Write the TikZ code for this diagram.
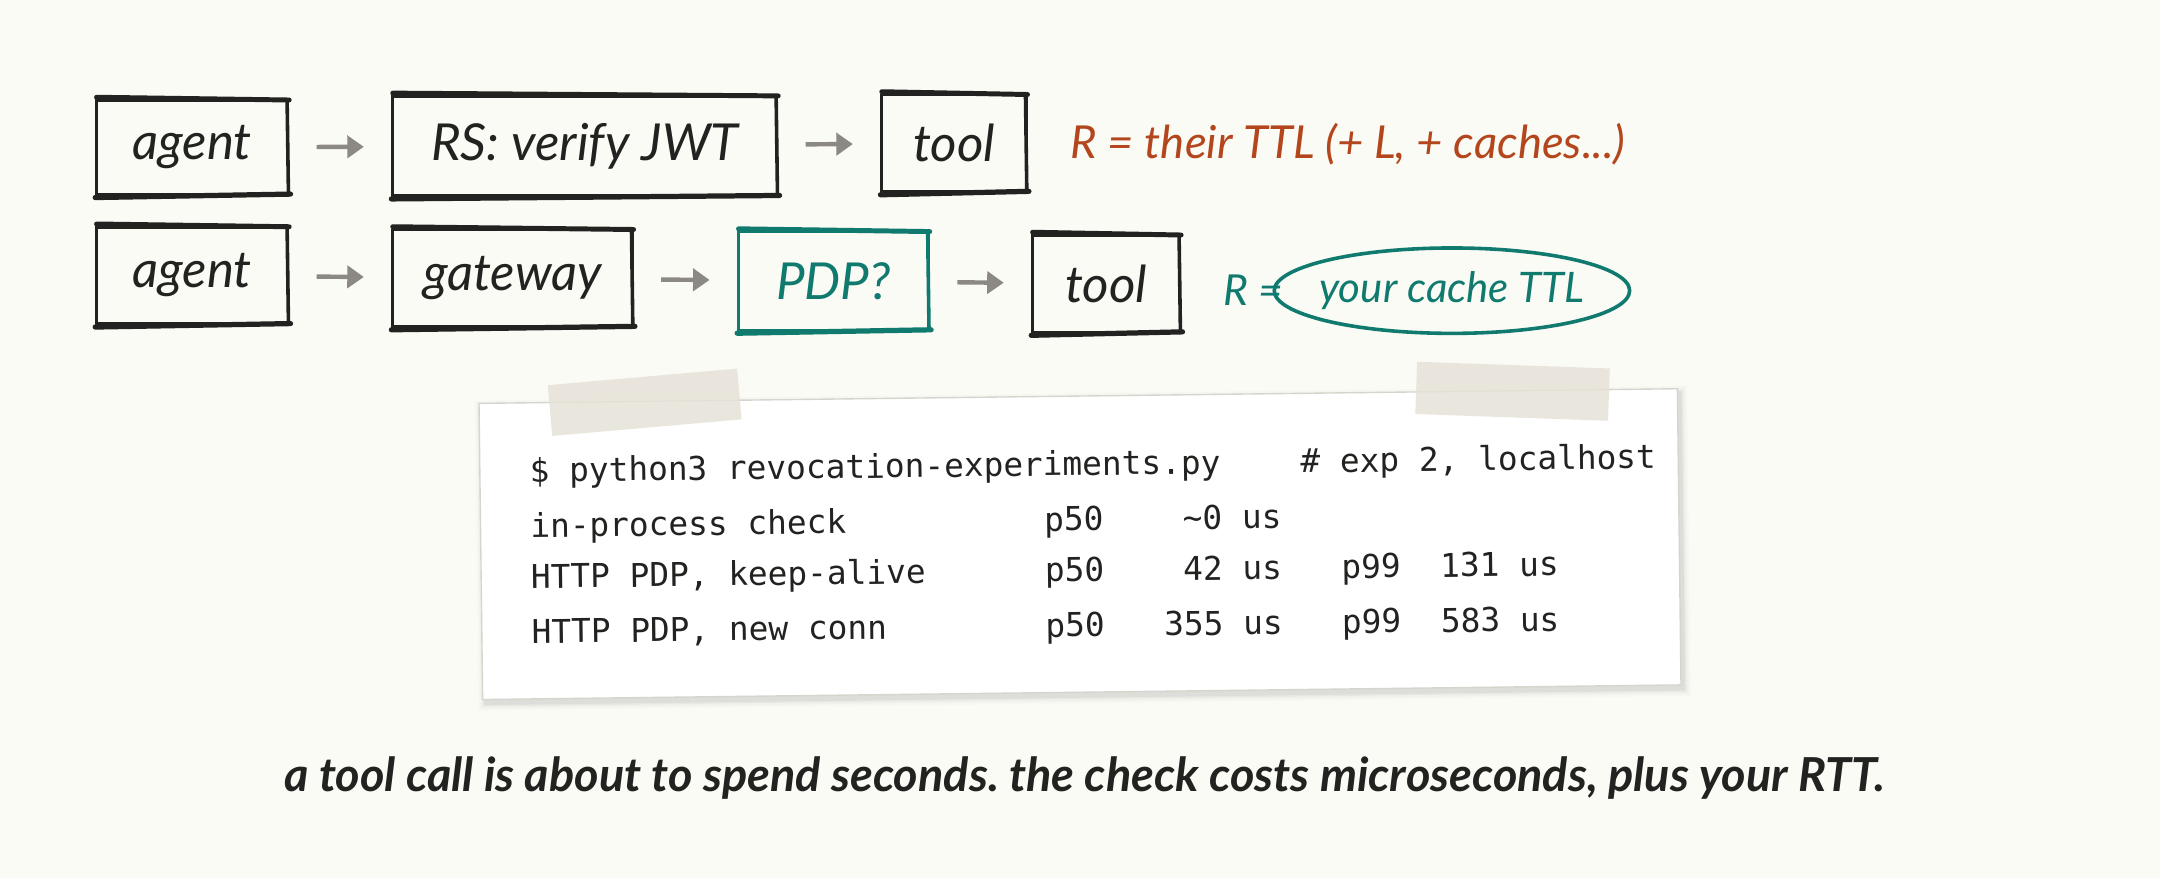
\documentclass[tikz,border=0pt]{standalone}
\usepackage{fontspec}
\usetikzlibrary{arrows.meta,shapes.geometric,calc}
\newfontfamily\hand{Lato}
\newfontfamily\code{DejaVu Sans Mono}
\definecolor{bg}{HTML}{FBFBF6}
\definecolor{ink}{HTML}{222220}
\definecolor{arr}{HTML}{8C8883}
\definecolor{rust}{HTML}{B4461E}
\definecolor{teal}{HTML}{117A6E}
\definecolor{paperedge}{HTML}{D7D4CD}
\definecolor{tape}{HTML}{E6E2D8}
\frenchspacing
\tikzset{
  sbox/.style={draw=#1, line width=1.8pt, inner sep=0pt, text=#1,
    font=\hand\itshape\fontsize{37}{42}\selectfont},
  flow/.style={draw=arr, line width=3.2pt, -{Triangle[width=16pt,length=12pt]},
    shorten <=20pt, shorten >=20pt},
  note/.style={anchor=west, inner sep=0pt, font=\hand\itshape\fontsize{33}{38}\selectfont},
  codeline/.style={anchor=mid west, inner sep=0pt, text=ink,
    font=\code\fontsize{23.8}{28}\selectfont},
  tapestrip/.style={fill=tape, fill opacity=0.85},
}
\newcommand\roughen[2]{%
  \draw[#2, line width=3.6pt, line cap=round] ([xshift=1pt,yshift=1.5pt]#1.north west) -- ([yshift=-0.5pt]#1.north east);
  \draw[#2, line width=3.8pt, line cap=round] ([yshift=-1.5pt]#1.south west) -- ([xshift=1pt,yshift=1pt]#1.south east);
  \draw[#2, line width=2.6pt] ([xshift=-1.5pt]#1.north east) -- ([xshift=-0.5pt]#1.south east);
}
\newcommand\cw{14.35}
\begin{document}
\begin{tikzpicture}[x=1pt,y=-1pt]
\useasboundingbox (0,0) rectangle (1568,637.4);
\fill[bg] (0,0) rectangle (1568,637.4);

% row 1
\node[sbox=ink, minimum width=139pt, minimum height=68pt] (agentA) at (139.5,107) {agent};
\node[sbox=ink, minimum width=279pt, minimum height=72pt] (rs) at (424.5,106) {RS: verify JWT};
\node[sbox=ink, minimum width=105pt, minimum height=70pt] (toolA) at (692.5,104) {tool};
\roughen{agentA}{ink}
\roughen{rs}{ink}
\roughen{toolA}{ink}
\draw[flow] (agentA) -- (rs);
\draw[flow] (rs) -- (toolA);
\node[note, text=rust] (rA) at (777,105) {R = their TTL (+ L, + caches...)};

% row 2
\node[sbox=ink, minimum width=139pt, minimum height=70pt] (agentB) at (139.5,200) {agent};
\node[sbox=ink, minimum width=174pt, minimum height=70pt] (gw) at (372,202) {gateway};
\node[sbox=teal, minimum width=138pt, minimum height=71pt] (pdp) at (605,204) {PDP?};
\node[sbox=ink, minimum width=107pt, minimum height=70pt] (toolB) at (803,206) {tool};
\roughen{agentB}{ink}
\roughen{gw}{ink}
\roughen{pdp}{teal}
\roughen{toolB}{ink}
\draw[flow] (agentB) -- (gw);
\draw[flow] (gw) -- (pdp);
\draw[flow] (pdp) -- (toolB);
\node[note, text=teal, font=\hand\itshape\fontsize{31}{36}\selectfont] (rB) at (888,211) {R =};
\node[ellipse, draw=teal, line width=2.6pt, minimum width=258pt, minimum height=62pt,
  inner xsep=-6pt, inner ysep=0pt, text=teal, font=\hand\itshape\fontsize{30.5}{34}\selectfont] (ttl) at (1054,211) {your cache TTL};

% paper
\begin{scope}[rotate around={0.7:(784,395)}, transform shape]
  \foreach \o/\a in {5/0.015,3.5/0.025,2/0.035,1/0.045}
    \fill[black, opacity=\a] (349-\o+2,287.5-\o+3) rectangle (1219+\o+2,502.5+\o+3);
  \node[draw=paperedge, line width=1pt, fill=white, minimum width=870pt, minimum height=215pt, inner sep=0pt] (paper) at (784,395) {};
  \node[codeline] (l1a) at (385,343) {\$ python3 revocation-experiments.py};
  \node[codeline] (l1b) at (385+39*\cw,343) {\# exp 2, localhost};
  \node[codeline] (l2a) at (385,383) {in-process check};
  \node[codeline] (l2b) at (385+26*\cw,383) {p50};
  \node[codeline] (l2c) at (385+33*\cw,383) {\string~0 us};
  \node[codeline] (l3a) at (385,420) {HTTP PDP, keep-alive};
  \node[codeline] (l3b) at (385+26*\cw,420) {p50};
  \node[codeline] (l3c) at (385+33*\cw,420) {42 us};
  \node[codeline] (l3d) at (385+41*\cw,420) {p99};
  \node[codeline] (l3e) at (385+46*\cw,420) {131 us};
  \node[codeline] (l4a) at (385,460) {HTTP PDP, new conn};
  \node[codeline] (l4b) at (385+26*\cw,460) {p50};
  \node[codeline] (l4c) at (385+32*\cw,460) {355 us};
  \node[codeline] (l4d) at (385+41*\cw,460) {p99};
  \node[codeline] (l4e) at (385+46*\cw,460) {583 us};
\end{scope}

% tapes
\begin{scope}[rotate around={5:(468,292)}]
  \fill[tapestrip] (399,273.5) rectangle (537,310.5);
\end{scope}
\begin{scope}[rotate around={-2:(1098,284)}]
  \fill[tapestrip] (1028,265) rectangle (1168,303);
\end{scope}

% caption
\node[font=\hand\bfseries\itshape\fontsize{34}{40}\selectfont, text=ink] (cap) at (787.5,565)
  {a tool call is about to spend seconds. the check costs microseconds, plus your RTT.};
\end{tikzpicture}
\end{document}
